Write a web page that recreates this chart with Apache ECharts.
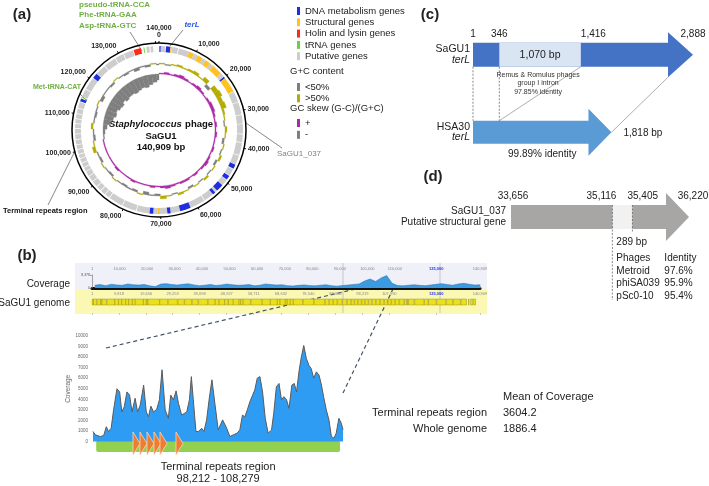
<!DOCTYPE html>
<html><head><meta charset="utf-8">
<script src="https://cdn.jsdelivr.net/npm/echarts@6/dist/echarts.min.js"></script>
<style>html,body{margin:0;padding:0;background:#fff}#c{width:709px;height:486px}</style>
</head><body><div id="c"></div>
<script>
// ================= DATA =================
const genomeLength = 140909;
const angleTickStep = 10000;
// gene map (bp start, end) by functional class
const dnaGenes = [[100,450],[1900,3100],[19800,20300],[44800,46000],[48200,49400],[51300,53300],[54000,54800],[61800,64700],[67300,68200],[72000,73000],[113500,114300],[120700,122100]];
const structuralGenes = [[3150,3500],[8300,9600],[10800,12200],[13300,14600],[15700,18600],[20300,24500],[70200,70800]];
const holinGenes = [[134000,136000]];
const trnaGenes = [[114500,114750],[136700,136950]];
const putativeGenes = [[500,1700],[3600,5200],[5400,8300],[9600,10800],[12200,13300],[14600,15700],[18600,19700],[24600,27500],[27700,31000],[31200,33500],[33656,36220],[36400,38500],[38700,42000],[42200,44700],[46200,48100],[49500,51300],[53300,54000],[54800,57500],[57700,61800],[64700,67300],[68200,70200],[70800,72000],[73000,76500],[76700,80500],[80700,84500],[84700,86000],[86200,87500],[87700,89000],[89200,90800],[91000,92500],[92700,94000],[94200,95200],[95400,96500],[96700,97800],[98000,99000],[99200,100300],[100500,101600],[101800,103000],[103200,104500],[104700,106000],[106200,107300],[107500,108600],[108800,110000],[110200,111500],[111700,113300],[114900,117000],[117200,120600],[122200,125000],[125200,128500],[128700,131000],[131200,133800],[137500,138300],[138600,139300]];
// G+C content and GC skew, 2 kb windows (deviation, px-scaled)
const gcBinSize = 2000;
const gcContent = [1,-1,1,2,1, 2,3,1,4,-3, 5,6,4,5,2, 1,-1,2,1,-2, 1,-1,2,-2,1, -1,2,-1,1,-2, 1,2,-1,1,3, -2,-1,-3,1,-2, -1,-2,-1,1,-2, -1,1,-2,-1,3, 1,-2,-1,2,-1, -2,-1,1,-3,-1, -1,-2,1,-1,-2, -1,-3,-1,-2,1,-1];
const gcSkew = [1,2,1,2,3,2,1,2,3,2,1,2,3,3,2,1,2,1,2,1, 1,2,1,2,3,2,1,2,1,2,2,1,2,3,2, 1,2,1,1,1,2,1,1,1,2,1,1,1,1,1, 1,-1,-2,-4, -7,-9,-11,-10,-12,-13,-11,-13,-12,-12,-13,-12,-11,-12,-10,-8,-6];
// (b) genome browser
const coverageBinSize = 2000;
const browserCoverage = [1800,2200,1500,2400,2000,1700,2600,2100,1900,2300,1400,900,2500,2800,2200,1900,2400,2700,2000,1500,1800,2300,1600,2000,2500,2100,1700,1900,2200,1400,1800,2600,2200,1900,2100,1500,1300,1700,2000,1600,1400,1800,2100,1500,1200,1600,1900,2300,2600, 4500,5800,4200,6500,8000,3000, 1600,1400,1800,2100,1700,1500,1900,2400,2800,2200,1800,2600,3000,2400,1900,2100];
const coverageMax = 8378;
const rulerTicks = [1,10000,20000,30000,40000,50000,60000,70000,80000,90000,100000,110000,125000,140909];
const genomeTicks = [1,9818,19656,29253,39098,48927,58711,68632,78540,88380,98219,107990,125000,140909];
const cursorPos = 125000;
// (b) zoomed coverage of terminal repeats
const zoomWindow = [98080, 108400];
const zoomCoveragePos = [98080,98180,98380,98520,98630,98720,98830,98930,99070,99180,99270,99370,99480,99590,99690,99820,99920,100030,100170,100280,100370,100470,100580,100710,100820,100930,101060,101190,101290,101400,101510,101610,101740,101840,101950,102060,102140,102220,102330,102430,102570,102660,102770,102880,102990,103120,103250,103430,103600,103730,103870,104030,104140,104250,104350,104450,104560,104670,104760,104860,104970,105080,105190,105310,105450,105540,105650,105760,105860,105960,106070,106170,106290,106390,106480,106590,106680,106780,106890,107000,107090,107190,107300,107410,107510,107600,107710,107820,107920,108030,108120,108230,108330,108400];
const zoomCoverage = [950,630,470,570,1400,950,1260,3000,5000,4700,2800,3300,4700,4400,2800,4100,2800,3450,5350,2800,2350,3350,2800,3050,3950,6800,3000,2200,4400,3950,4800,3600,2500,2650,2800,3950,6150,3950,950,950,1250,950,2050,4100,5850,3450,1100,2050,1250,470,630,790,1100,2500,2350,3000,3800,4400,4900,6000,6150,4700,2200,790,1100,2650,5200,5500,3950,4250,3950,3150,5350,5500,4700,6750,8000,9100,7850,7200,6900,6000,6600,6300,5350,4250,3000,2050,470,310,790,2200,1730,1100];
const repeatRegion = [98212, 108279];
const repeatUnits = [99731,100020,100309,100598,100846,101506];
const meanLabels = ['Terminal repeats region','Whole genome'];
const meanValues = ['3604.2','1886.4'];
// (c) terL
const terLRows = ['HSA30','SaGU1'];
const saguTerL = [1, 2888];
const intronRegion = [346, 1416];
const hsa30TerL = [1, 1818];
const terLTicks = [1, 346, 1416, 2888];
// (d) SaGU1_037
const gene037 = [33656, 36220];
const gene037Region = [35116, 35405];
const gene037Ticks = [33656, 35116, 35405, 36220];
const phageNames = ['Metroid','phiSA039','pSc0-10'];
const phageIdentity = ['97.6%','95.9%','95.4%'];

// ================= RENDER =================
const FONT = "'Liberation Sans', Arial, sans-serif";
const fmt = n => String(n).replace(/\B(?=(\d{3})+(?!\d))/g, ',');
const chart = echarts.init(document.getElementById('c'), null, {width:709, height:486});
const RING = {geneIn:78, geneOut:84, gcBase:66, skewBase:56};
const COL = {dna:'#1f2fe0', str:'#ffc224', hol:'#ff2a1a', trna:'#66d43a', put:'#cdcdcd',
  gcLow:'#7f7f7f', gcHigh:'#b3ad00', skPos:'#ad2aa6', skNeg:'#7f7f7f'};

function sectorItem(params, api, s, e, r0, r1, fill) {
  const cs = params.coordSys;
  const pS = api.coord([r1, s]), pE = api.coord([r1, e]), pI = api.coord([r0, s]);
  const a0 = Math.atan2(pS[1]-cs.cy, pS[0]-cs.cx);
  let a1 = Math.atan2(pE[1]-cs.cy, pE[0]-cs.cx);
  if (a1 <= a0) a1 += 2*Math.PI;
  return {type:'sector', shape:{cx:cs.cx, cy:cs.cy, r0:Math.hypot(pI[0]-cs.cx,pI[1]-cs.cy), r:Math.hypot(pS[0]-cs.cx,pS[1]-cs.cy), startAngle:a0, endAngle:a1, clockwise:true}, style:{fill, stroke:fill, lineWidth:0.3}};
}
function geneSeries(name, genes, color) {
  return {type:'custom', name, coordinateSystem:'polar', polarIndex:0, silent:true, itemStyle:{color},
    data: genes.map(g => [g[0], g[1]]),
    renderItem: (p, api) => { const it = sectorItem(p, api, api.value(0), api.value(1), RING.geneIn, RING.geneOut, color); it.style.lineWidth = 0; return it; }};
}
function binSeries(name, values, sign, color, base) {
  const data = [];
  values.forEach((v, i) => { if (v * sign > 0) data.push([i*gcBinSize, Math.min((i+1)*gcBinSize, genomeLength), v]); });
  return {type:'custom', name, coordinateSystem:'polar', polarIndex:0, silent:true, itemStyle:{color}, data,
    renderItem: (p, api) => { const v = api.value(2);
      return v > 0 ? sectorItem(p, api, api.value(0), api.value(1), base, base+v, color)
                   : sectorItem(p, api, api.value(0), api.value(1), base+v, base, color); }};
}
function arrowPts(x0, x1, yc, bodyH, headH, headL) {
  return [[x0,yc-bodyH/2],[x1-headL,yc-bodyH/2],[x1-headL,yc-headH/2],[x1,yc],[x1-headL,yc+headH/2],[x1-headL,yc+bodyH/2],[x0,yc+bodyH/2]];
}
const txt = (x, y, text, o) => ({type:'text', x, y, silent:true, style:Object.assign({text, fontFamily:FONT, fontSize:10, fill:'#222', verticalAlign:'middle'}, o||{})});
const ln = (x1, y1, x2, y2, o) => ({type:'line', silent:true, shape:{x1,y1,x2,y2}, style:Object.assign({stroke:'#444', lineWidth:0.8}, o||{})});

const allGenes = [].concat(putativeGenes, dnaGenes, structuralGenes, holinGenes, trnaGenes);

const option = {
  animation:false,
  textStyle:{fontFamily:FONT},
  polar:[{center:[159,130], radius:[0,87]}],
  angleAxis:[{polarIndex:0, type:'value', min:0, max:genomeLength, interval:angleTickStep, startAngle:90, clockwise:true,
    axisLine:{lineStyle:{color:'#000', width:1.5}}, axisTick:{show:true, length:2, lineStyle:{color:'#000'}},
    splitLine:{show:false}, splitArea:{show:false},
    axisLabel:{fontSize:7, fontWeight:'bold', color:'#222', margin:4, lineHeight:7,
      formatter: v => v === 0 ? fmt(140000) + '\n0' : (v >= 140000 ? '' : fmt(v))}}],
  radiusAxis:[{polarIndex:0, type:'value', min:0, max:87, axisLine:{show:false}, axisTick:{show:false}, axisLabel:{show:false}, splitLine:{show:false}, splitArea:{show:false}}],
  legend:[
    {data:['DNA metabolism genes','Structural genes','Holin and lysin genes','tRNA genes','Putative genes'], orient:'vertical', left:292, top:1, itemWidth:3, itemHeight:8, itemGap:1.3, icon:'rect', selectedMode:false, textStyle:{fontSize:9.5, color:'#222', fontFamily:FONT}},
    {data:['<50%','>50%'], orient:'vertical', left:292, top:77, itemWidth:3, itemHeight:8, itemGap:1.3, icon:'rect', selectedMode:false, textStyle:{fontSize:9.5, color:'#222', fontFamily:FONT}},
    {data:['+','-'], orient:'vertical', left:292, top:113, itemWidth:3, itemHeight:8, itemGap:1.8, icon:'rect', selectedMode:false, textStyle:{fontSize:9.5, color:'#222', fontFamily:FONT}}
  ],
  grid:[
    {left:92, width:388, top:275, height:13},
    {left:92, width:388, top:291, height:22},
    {left:93, width:250, top:336, height:105.5},
    {left:93, width:250, top:440, height:12},
    {left:473, width:220, top:16, height:155},
    {left:511, width:178, top:200, height:34}
  ],
  xAxis:[
    {gridIndex:0, type:'value', min:0, max:genomeLength, position:'top',
      axisLine:{lineStyle:{color:'#111', width:3}}, splitLine:{show:false},
      axisTick:{customValues:rulerTicks, length:2, lineStyle:{color:'#999', width:0.5}},
      axisLabel:{customValues:rulerTicks, fontSize:4, color:'#888', margin:4,
        formatter: v => v === cursorPos ? '{b|' + fmt(v) + '}' : fmt(v), rich:{b:{fontSize:4, color:'#2233ee', fontWeight:'bold'}}}},
    {gridIndex:1, type:'value', min:0, max:genomeLength, position:'top', axisLine:{show:false}, splitLine:{show:false},
      axisTick:{customValues:genomeTicks, inside:true, length:2, lineStyle:{color:'#999', width:0.5}},
      axisLabel:{customValues:genomeTicks, inside:true, fontSize:4, color:'#888', margin:1,
        formatter: v => v === cursorPos ? '{b|' + fmt(v) + '}' : fmt(v), rich:{b:{fontSize:4, color:'#2233ee', fontWeight:'bold'}}}},
    {gridIndex:2, type:'value', min:zoomWindow[0], max:zoomWindow[1], show:false},
    {gridIndex:3, type:'value', min:zoomWindow[0], max:zoomWindow[1], show:false},
    {gridIndex:4, type:'value', min:saguTerL[0], max:saguTerL[1], show:false},
    {gridIndex:5, type:'value', min:gene037[0], max:gene037[1], show:false}
  ],
  yAxis:[
    {gridIndex:0, type:'value', min:0, max:coverageMax, splitLine:{show:false},
      axisLine:{show:true, lineStyle:{color:'#555', width:0.5}},
      axisTick:{customValues:[0, coverageMax], length:2, lineStyle:{color:'#555', width:0.5}},
      axisLabel:{customValues:[0, coverageMax], fontSize:3.5, color:'#555', margin:2}},
    {gridIndex:1, type:'value', min:0, max:1, show:false},
    {gridIndex:2, type:'value', min:0, max:10000, interval:1000, splitLine:{show:false}, axisLine:{show:false}, axisTick:{show:false},
      axisLabel:{fontSize:4.5, color:'#666', margin:5, formatter: v => String(v)},
      name:'Coverage', nameLocation:'middle', nameGap:20, nameRotate:90, nameTextStyle:{fontSize:6.5, color:'#666'}},
    {gridIndex:3, type:'value', min:0, max:1, show:false},
    {gridIndex:4, type:'category', data:terLRows, axisLine:{show:false}, axisTick:{show:false},
      axisLabel:{margin:3, fontSize:10.5, color:'#222', lineHeight:10.5, formatter: v => v + '\n{i|terL}', rich:{i:{fontStyle:'italic', fontSize:10.5, color:'#222'}}}},
    {gridIndex:5, type:'category', data:['SaGU1_037'], axisLine:{show:false}, axisTick:{show:false},
      axisLabel:{margin:5, fontSize:10, color:'#222', lineHeight:11, formatter: v => v + '\nPutative structural gene'}}
  ],
  series:[
    // (a) circular map
    geneSeries('Putative genes', putativeGenes, COL.put),
    geneSeries('DNA metabolism genes', dnaGenes, COL.dna),
    geneSeries('Structural genes', structuralGenes, COL.str),
    geneSeries('Holin and lysin genes', holinGenes, COL.hol),
    geneSeries('tRNA genes', trnaGenes, COL.trna),
    binSeries('>50%', gcContent, 1, COL.gcHigh, RING.gcBase),
    binSeries('<50%', gcContent, -1, COL.gcLow, RING.gcBase),
    binSeries('+', gcSkew, 1, COL.skPos, RING.skewBase),
    binSeries('-', gcSkew, -1, COL.skNeg, RING.skewBase),
    // (b) browser coverage track
    {type:'line', xAxisIndex:0, yAxisIndex:0, silent:true, symbol:'none',
      data: browserCoverage.map((v, i) => [i*coverageBinSize + coverageBinSize/2, v]),
      lineStyle:{color:'#1d6fb8', width:0.5}, areaStyle:{color:'#3b9be0', opacity:1}},
    // (b) genome track genes
    {type:'custom', xAxisIndex:1, yAxisIndex:1, silent:true, data: allGenes.map(g => [g[0], g[1]]),
      renderItem: (p, api) => { const a = api.coord([api.value(0), 0.5]), b = api.coord([api.value(1), 0.5]);
        return {type:'rect', shape:{x:a[0], y:a[1]-3, width:Math.max(b[0]-a[0],0.6), height:6}, style:{fill:'#ebe01c', stroke:'#857f10', lineWidth:0.4}}; }},
    // (b) zoomed coverage
    {type:'line', xAxisIndex:2, yAxisIndex:2, silent:true, symbol:'none',
      data: zoomCoveragePos.map((x, i) => [x, zoomCoverage[i]]),
      lineStyle:{color:'#5a5a5a', width:1}, areaStyle:{color:'#2f9cf4', opacity:1}},
    // (b) terminal repeat region bar + labels
    {type:'custom', xAxisIndex:3, yAxisIndex:3, silent:true, data:[[repeatRegion[0], repeatRegion[1]]],
      renderItem: (p, api) => { const a = api.coord([api.value(0), 1]), b = api.coord([api.value(1), 0]);
        const mid = (a[0]+b[0])/2;
        return {type:'group', children:[
          {type:'rect', shape:{x:a[0], y:a[1]+0.5, width:b[0]-a[0], height:b[1]-a[1]-0.5, r:2}, style:{fill:'#92d050'}},
          {type:'text', style:{text:'Terminal repeats region', x:mid, y:b[1]+14.5, align:'center', verticalAlign:'middle', fontSize:11, fontFamily:FONT, fill:'#222'}},
          {type:'text', style:{text:fmt(api.value(0)) + ' - ' + fmt(api.value(1)), x:mid, y:b[1]+26.5, align:'center', verticalAlign:'middle', fontSize:11, fontFamily:FONT, fill:'#222'}}
        ]}; }},
    {type:'custom', xAxisIndex:3, yAxisIndex:3, silent:true, z:5, data: repeatUnits.map(u => [u]),
      renderItem: (p, api) => { const a = api.coord([api.value(0), 1]);
        const top = a[1]-8, bot = a[1]+15;
        return {type:'polygon', shape:{points:[[a[0],top],[a[0]+7,(top+bot)/2],[a[0],bot]]}, style:{fill:'#ed7d31', stroke:'#fbd5b5', lineWidth:0.8}}; }},
    // (c) terL comparison
    {type:'custom', xAxisIndex:4, yAxisIndex:4, silent:true, data:[[saguTerL[0], 1]],
      renderItem: (p, api) => {
        const iS = terLRows.indexOf('SaGU1'), iH = terLRows.indexOf('HSA30');
        const X = v => api.coord([v, iS])[0];
        const yS = api.coord([saguTerL[0], iS])[1], yH = api.coord([hsa30TerL[0], iH])[1];
        const kids = [];
        kids.push({type:'polygon', shape:{points:arrowPts(X(saguTerL[0]), X(saguTerL[1]), yS, 24, 45, 25)}, style:{fill:'#4472c4'}});
        kids.push({type:'rect', shape:{x:X(intronRegion[0]), y:yS-12, width:X(intronRegion[1])-X(intronRegion[0]), height:24}, style:{fill:'#dae5f4'}});
        kids.push({type:'polygon', shape:{points:arrowPts(X(hsa30TerL[0]), X(hsa30TerL[1]), yH, 23, 47, 23)}, style:{fill:'#5b9bd5'}});
        [hsa30TerL[0], intronRegion[0]].forEach(v => kids.push({type:'line', shape:{x1:X(v), y1:yS+12, x2:X(v), y2:yH-11.5}, style:{stroke:'#555', lineWidth:0.7, lineDash:[2,1.5]}}));
        kids.push({type:'line', shape:{x1:X(intronRegion[0]), y1:yH-11.5, x2:X(intronRegion[1]), y2:yS+12}, style:{stroke:'#777', lineWidth:0.6}});
        kids.push({type:'line', shape:{x1:X(hsa30TerL[1]), y1:yH, x2:X(saguTerL[1])-25, y2:yS+22.5}, style:{stroke:'#777', lineWidth:0.6}});
        const aligns = ['center','center','left','center'];
        terLTicks.forEach((v, i) => kids.push({type:'text', style:{text:fmt(v), x:X(v), y:yS-21, align:aligns[i], verticalAlign:'middle', fontSize:10, fontFamily:FONT, fill:'#222'}}));
        const im = (X(intronRegion[0]) + X(intronRegion[1]))/2;
        kids.push({type:'text', style:{text:fmt(intronRegion[1]-intronRegion[0]) + ' bp', x:im, y:yS, align:'center', verticalAlign:'middle', fontSize:10.5, fontFamily:FONT, fill:'#222'}});
        kids.push({type:'text', style:{text:'Remus & Romulus phages\ngroup I intron\n97.85% identity', x:im-2, y:yS+16, align:'center', verticalAlign:'top', fontSize:7, lineHeight:8.5, fontFamily:FONT, fill:'#333'}});
        kids.push({type:'text', style:{text:fmt(hsa30TerL[1]) + ' bp', x:X(hsa30TerL[1])+12, y:yH+1, align:'left', verticalAlign:'middle', fontSize:10, fontFamily:FONT, fill:'#222'}});
        kids.push({type:'text', style:{text:'99.89% identity', x:(X(hsa30TerL[0])+X(hsa30TerL[1]))/2, y:yH+22, align:'center', verticalAlign:'middle', fontSize:10, fontFamily:FONT, fill:'#222'}});
        return {type:'group', children:kids};
      }},
    // (d) SaGU1_037
    {type:'custom', xAxisIndex:5, yAxisIndex:5, silent:true, data:[[gene037[0], 0]],
      renderItem: (p, api) => {
        const X = v => api.coord([v, 0])[0];
        const y = api.coord([gene037[0], 0])[1];
        const kids = [];
        kids.push({type:'polygon', shape:{points:arrowPts(X(gene037[0]), X(gene037[1]), y, 24, 48, 23)}, style:{fill:'#a8a5a5'}});
        kids.push({type:'rect', shape:{x:X(gene037Region[0]), y:y-12, width:X(gene037Region[1])-X(gene037Region[0]), height:24}, style:{fill:'#f1f1f1'}});
        kids.push({type:'line', shape:{x1:X(gene037Region[0]), y1:y-12, x2:X(gene037Region[0]), y2:y+83}, style:{stroke:'#555', lineWidth:0.7, lineDash:[2,1.5]}});
        kids.push({type:'line', shape:{x1:X(gene037Region[1]), y1:y-12, x2:X(gene037Region[1]), y2:y+16}, style:{stroke:'#555', lineWidth:0.7, lineDash:[2,1.5]}});
        const aligns = ['center','right','left','center'], dx = [2,4,-5,4];
        gene037Ticks.forEach((v, i) => kids.push({type:'text', style:{text:fmt(v), x:X(v)+dx[i], y:y-21, align:aligns[i], verticalAlign:'middle', fontSize:10, fontFamily:FONT, fill:'#222'}}));
        const x0 = X(gene037Region[0]) + 4;
        kids.push({type:'text', style:{text:(gene037Region[1]-gene037Region[0]) + ' bp', x:x0, y:y+25, verticalAlign:'middle', fontSize:10, fontFamily:FONT, fill:'#222'}});
        kids.push({type:'text', style:{text:'Phages', x:x0, y:y+41, verticalAlign:'middle', fontSize:10, fontFamily:FONT, fill:'#222'}});
        kids.push({type:'text', style:{text:'Identity', x:x0+48, y:y+41, verticalAlign:'middle', fontSize:10, fontFamily:FONT, fill:'#222'}});
        phageNames.forEach((n, i) => {
          kids.push({type:'text', style:{text:n, x:x0, y:y+54+i*12.5, verticalAlign:'middle', fontSize:10, fontFamily:FONT, fill:'#222'}});
          kids.push({type:'text', style:{text:phageIdentity[i], x:x0+48, y:y+54+i*12.5, verticalAlign:'middle', fontSize:10, fontFamily:FONT, fill:'#222'}});
        });
        return {type:'group', children:kids};
      }}
  ],
  graphic:[
    // browser panel backgrounds
    {type:'rect', silent:true, shape:{x:75, y:263, width:412, height:27}, style:{fill:'#eff0f8'}},
    {type:'rect', silent:true, shape:{x:75, y:290, width:412, height:24}, style:{fill:'#fbf8b4'}},
    ln(343, 263, 343, 313, {stroke:'#aaa', lineWidth:0.6}),
    ln(440, 263, 440, 313, {stroke:'#aab', lineWidth:0.6}),
    txt(70, 284, 'Coverage', {align:'right'}),
    txt(70, 303, 'SaGU1 genome', {align:'right'}),
    // panel letters
    txt(22, 15, '(a)', {fontSize:15, fontWeight:'bold', align:'center'}),
    txt(27, 256, '(b)', {fontSize:15, fontWeight:'bold', align:'center'}),
    txt(430, 15, '(c)', {fontSize:15, fontWeight:'bold', align:'center'}),
    txt(433, 177, '(d)', {fontSize:15, fontWeight:'bold', align:'center'}),
    // (a) centre text
    {type:'text', x:161, y:136, silent:true, style:{text:'{i|Staphylococcus} {b|phage}\n{b|SaGU1}\n{b|140,909 bp}', align:'center', verticalAlign:'middle', lineHeight:11.5, fontFamily:FONT,
      rich:{i:{fontStyle:'italic', fontWeight:'bold', fontSize:9.5, fill:'#111', fontFamily:FONT}, b:{fontWeight:'bold', fontSize:9.5, fill:'#111', fontFamily:FONT}}}},
    // (a) annotations
    txt(79, 4.5, 'pseudo-tRNA-CCA', {fontSize:8, fontWeight:'bold', fill:'#6fb043'}),
    txt(79, 15, 'Phe-tRNA-GAA', {fontSize:8, fontWeight:'bold', fill:'#6fb043'}),
    txt(79, 25.5, 'Asp-tRNA-GTC', {fontSize:8, fontWeight:'bold', fill:'#6fb043'}),
    ln(130, 32, 142, 51, {stroke:'#555', lineWidth:0.7}),
    txt(192, 25, 'terL', {fontSize:8, fontWeight:'bold', fontStyle:'italic', fill:'#2d55e6', align:'center'}),
    ln(183, 30, 170, 46, {stroke:'#555', lineWidth:0.7}),
    txt(33, 87, 'Met-tRNA-CAT', {fontSize:7, fontWeight:'bold', fill:'#6fb043'}),
    ln(80, 94, 87, 101, {stroke:'#555', lineWidth:0.7}),
    txt(3, 211, 'Terminal repeats region', {fontSize:7.5, fontWeight:'bold', fill:'#111'}),
    ln(48, 205, 75, 151, {stroke:'#555', lineWidth:0.7}),
    txt(277, 154, 'SaGU1_037', {fontSize:8, fill:'#808080'}),
    ln(246, 123, 282, 148, {stroke:'#555', lineWidth:0.7}),
    // legend headers
    txt(290, 71, 'G+C content', {fontSize:9.5}),
    txt(290, 108, 'GC skew (G-C)/(G+C)', {fontSize:9.5}),
    // zoom connectors
    ln(106, 348, 364, 287, {stroke:'#44546a', lineWidth:1.2, lineDash:[4,3]}),
    ln(343, 393, 393, 289, {stroke:'#44546a', lineWidth:1.2, lineDash:[4,3]}),
    // mean coverage table
    txt(503, 397, 'Mean of Coverage', {fontSize:11}),
    txt(487, 413, meanLabels[0], {fontSize:11, align:'right'}),
    txt(503, 413, meanValues[0], {fontSize:11}),
    txt(487, 429, meanLabels[1], {fontSize:11, align:'right'}),
    txt(503, 429, meanValues[1], {fontSize:11})
  ]
};
chart.setOption(option);
</script></body></html>
